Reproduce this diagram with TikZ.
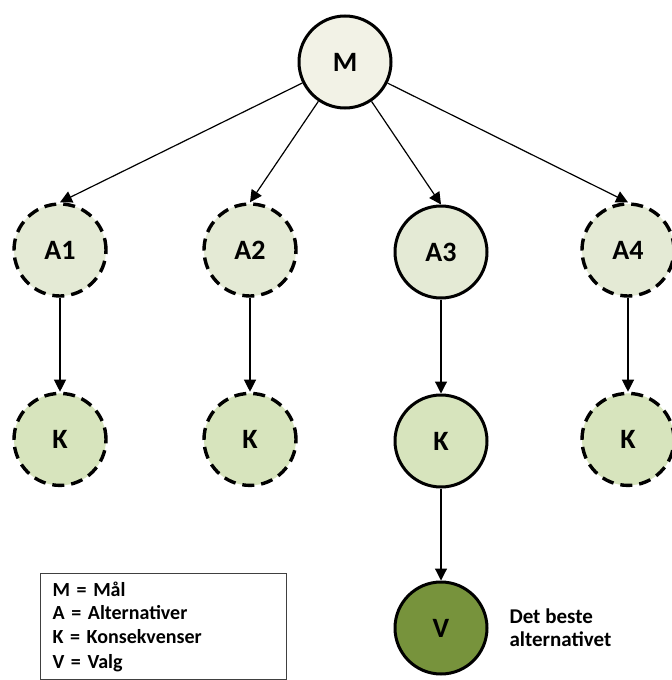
\documentclass[tikz,border=0pt]{standalone}
\usepackage{fontspec}
\setmainfont{Carlito}
\usepackage{tikz}
\usetikzlibrary{arrows.meta, positioning}
\usepackage{xcolor}
\definecolor{malfill}{RGB}{242,242,230}
\definecolor{altfill}{RGB}{228,234,213}
\definecolor{konsfill}{RGB}{215,228,189}
\definecolor{valgfill}{RGB}{119,147,60}
\tikzset{
  basecircle/.style={
    circle, draw=black, line width=1.5pt, minimum size=46pt, inner sep=0pt,
    font=\fontsize{14}{16}\selectfont\bfseries
  },
  malcircle/.style={basecircle, fill=malfill},
  altcircle/.style={basecircle, fill=altfill},
  konscircle/.style={basecircle, fill=konsfill},
  valgcircle/.style={basecircle, fill=valgfill},
  dropped/.style={dash pattern=on 6pt off 3.5pt, line width=1.7pt},
  arrow/.style={-{Triangle[length=6pt, width=6pt]}, line width=0.6pt, color=black},
  legendbox/.style={
    rectangle, draw=black!75, line width=0.5pt, align=left, anchor=north west,
    text width=111pt, inner xsep=6pt, inner ysep=4pt,
    font=\fontsize{10}{12}\selectfont\bfseries
  }
}

\begin{document}
\begin{tikzpicture}[x=0.5pt, y=-0.5pt, node distance=47pt]
  \useasboundingbox (0,0) rectangle (672,680);

  % goal
  \node[malcircle] (mal) at (345,62) {M};

  % alternatives
  \node[altcircle, dropped] (alt1) at (60,250) {A1};
  \node[altcircle, dropped] (alt2) at (250,250) {A2};
  \node[altcircle] (alt3) at (441,252) {A3};
  \node[altcircle, dropped] (alt4) at (628,250) {A4};

  % consequences
  \node[konscircle, dropped, below=of alt1] (kons1) {K};
  \node[konscircle, dropped, below=of alt2] (kons2) {K};
  \node[konscircle, below=of alt3] (kons3) {K};
  \node[konscircle, dropped, below=of alt4] (kons4) {K};

  % choice
  \node[valgcircle, below=46pt of kons3] (valg) {V};
  \node[right=7pt of valg, align=left, font=\fontsize{10.5}{11.5}\selectfont\bfseries]
        (beste) {Det beste\\alternativet};

  \draw[arrow] (mal) -- (alt1.north);
  \draw[arrow] (mal) -- (alt2.north);
  \draw[arrow] (mal) -- (alt3.north);
  \draw[arrow] (mal) -- (alt4.north);
  \foreach \i in {1,...,4}
    \draw[arrow] (alt\i) -- (kons\i);
  \draw[arrow] (kons3) -- (valg);

  % legend
  \node[legendbox] (legend) at (40,573)
        {M = Mål\\A = Alternativer\\K = Konsekvenser\\V = Valg};
\end{tikzpicture}
\end{document}
